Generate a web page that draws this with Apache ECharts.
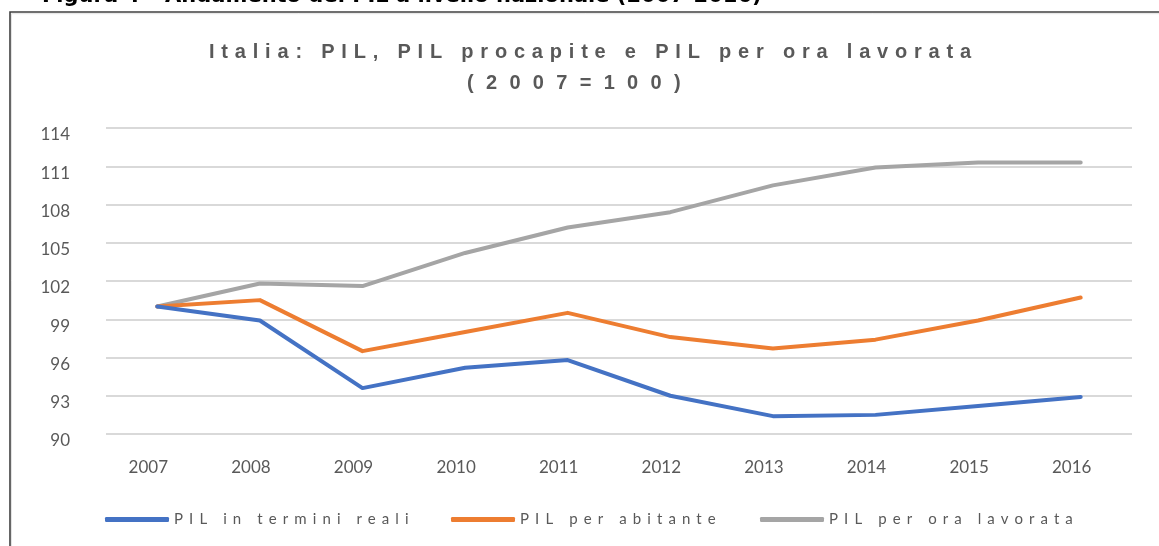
<!DOCTYPE html>
<html>
<head>
<meta charset="utf-8">
<script src="https://cdn.jsdelivr.net/npm/echarts@6/dist/echarts.min.js"></script>
<style>
  html, body { margin: 0; padding: 0; background: #fff; }
  #chart { width: 1159px; height: 546px; }
</style>
</head>
<body>
<div id="chart"></div>
<script>
// ---- data ----
const years = ['2007', '2008', '2009', '2010', '2011', '2012', '2013', '2014', '2015', '2016'];
const pilReale = [100, 98.9, 93.6, 95.2, 95.8, 93.0, 91.4, 91.5, 92.2, 92.9];
const pilAbitante = [100, 100.5, 96.5, 98.0, 99.5, 97.6, 96.7, 97.4, 98.9, 100.7];
const pilOra = [100, 101.8, 101.6, 104.2, 106.2, 107.4, 109.5, 110.9, 111.3, 111.3];
const yTicks = [90, 93, 96, 99, 102, 105, 108, 111, 114];
const seriesNames = ['PIL in termini reali', 'PIL per abitante', 'PIL per ora lavorata'];
const titleLine1 = 'Italia: PIL, PIL procapite e PIL per ora lavorata';
const titleLine2 = '(2007=100)';
const caption = 'Figura 4 – Andamento del PIL a livello nazionale (2007-2016)';

// ---- letter spacing for tagged fonts (canvas) ----
(function () {
  const proto = CanvasRenderingContext2D.prototype;
  const origFill = proto.fillText, origMeasure = proto.measureText, origStroke = proto.strokeText;
  const tags = [['zlsa', '6.8px'], ['zlsb', '12.3px'], ['zlsc', '6.1px']];
  function apply(ctx) {
    const f = ctx.font || '';
    let ls = '0px';
    for (const [t, v] of tags) { if (f.indexOf(t) >= 0) { ls = v; break; } }
    try { ctx.letterSpacing = ls; } catch (e) {}
  }
  proto.fillText = function () { apply(this); return origFill.apply(this, arguments); };
  proto.strokeText = function () { apply(this); return origStroke.apply(this, arguments); };
  proto.measureText = function () { apply(this); return origMeasure.apply(this, arguments); };
})();

const colors = ['#4472C4', '#ED7D31', '#A5A5A5'];
const textGray = '#595959';
const legendLefts = [105, 451, 760];

const chart = echarts.init(document.getElementById('chart'), null, { renderer: 'canvas' });

const option = {
  animation: false,
  backgroundColor: '#ffffff',
  title: [
    {
      text: titleLine1, left: 209, top: 39, padding: 0,
      textStyle: { fontFamily: '"Liberation Sans", zlsa', fontSize: 20, fontWeight: 'bold', color: textGray }
    },
    {
      text: titleLine2, left: 467, top: 67, padding: 0,
      textStyle: { fontFamily: '"Liberation Sans", zlsb', fontSize: 20, fontWeight: 'bold', color: textGray }
    }
  ],
  graphic: [
    {
      type: 'text', left: 42, top: -13.5, silent: true,
      style: { text: caption, fill: '#000', font: 'bold 21px "DejaVu Sans"' }
    },
    {
      type: 'rect', silent: true,
      shape: { x: 10, y: 12, width: 1300, height: 700 },
      style: { fill: 'none', stroke: '#404040', lineWidth: 1.6 }
    },
    {
      type: 'rect', silent: true,
      shape: { x: 11.5, y: 13.7, width: 1300, height: 700 },
      style: { fill: 'none', stroke: '#e3e3e3', lineWidth: 1 }
    }
  ],
  legend: seriesNames.map((n, i) => ({
    data: [n], left: legendLefts[i], top: 509, padding: 0,
    icon: 'roundRect', itemWidth: 64, itemHeight: 5,
    textStyle: { fontFamily: 'Lato, zlsc', fontSize: 15, color: textGray },
    selectedMode: false
  })),
  grid: { left: 106, right: 27, top: 128, bottom: 112 },
  xAxis: {
    type: 'category', data: years, boundaryGap: true,
    axisLine: { show: false }, axisTick: { show: false },
    axisLabel: { color: textGray, fontFamily: 'Lato', fontSize: 17, margin: 25, padding: [0, 18, 0, 0] },
    splitLine: { show: false }
  },
  yAxis: {
    type: 'value', min: yTicks[0], max: yTicks[yTicks.length - 1], interval: yTicks[1] - yTicks[0],
    axisLine: { show: false }, axisTick: { show: false },
    axisLabel: { color: textGray, fontFamily: 'Lato', fontSize: 17, margin: 36, verticalAlign: 'top', lineHeight: 14 },
    splitLine: { lineStyle: { color: '#d9d9d9', width: 2 } }
  },
  series: [pilReale, pilAbitante, pilOra].map((d, i) => ({
    name: seriesNames[i], type: 'line', data: d,
    symbol: 'none', smooth: false,
    lineStyle: { color: colors[i], width: 4, cap: 'round', join: 'round' },
    itemStyle: { color: colors[i] },
    z: 2 + (2 - i)
  }))
};
chart.setOption(option);
</script>
</body>
</html>
